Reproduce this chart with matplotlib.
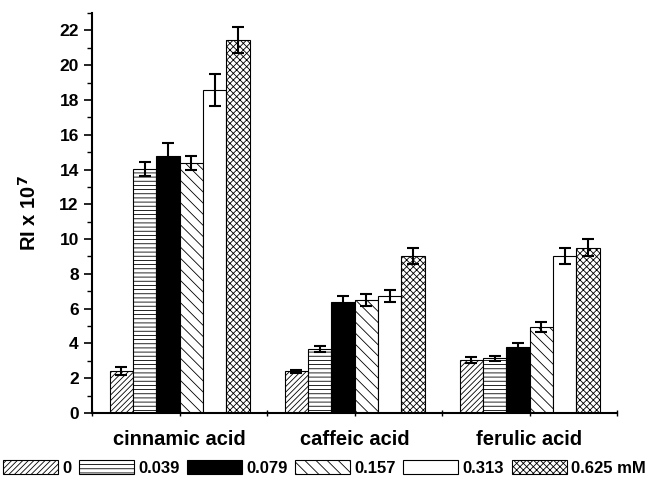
import matplotlib
matplotlib.use("Agg")
import matplotlib.pyplot as plt
import numpy as np
from matplotlib.ticker import MultipleLocator, FixedLocator

plt.rcParams['font.family'] = ['Liberation Sans', 'DejaVu Sans']
plt.rcParams['font.weight'] = 'bold'
plt.rcParams['hatch.linewidth'] = 0.6

categories = ["cinnamic acid", "caffeic acid", "ferulic acid"]
series_labels = ["0", "0.039", "0.079", "0.157", "0.313", "0.625 mM"]
values = {
    "0":        [2.4, 2.4, 3.05],
    "0.039":    [14.05, 3.7, 3.15],
    "0.079":    [14.8, 6.4, 3.8],
    "0.157":    [14.4, 6.5, 4.95],
    "0.313":    [18.55, 6.75, 9.0],
    "0.625 mM": [21.45, 9.0, 9.5],
}
errors = {
    "0":        [0.22, 0.1, 0.15],
    "0.039":    [0.4, 0.18, 0.15],
    "0.079":    [0.75, 0.35, 0.2],
    "0.157":    [0.4, 0.35, 0.3],
    "0.313":    [0.92, 0.35, 0.46],
    "0.625 mM": [0.75, 0.46, 0.48],
}
hatches = ["//////", "----", None, "\\\\\\", None, "xxxxx"]
faces = ["white", "white", "black", "white", "white", "white"]

fig = plt.figure(figsize=(6.49, 4.95), dpi=100)
ax = fig.add_axes([0.1418, 0.1657, 0.809, 0.808])

x = np.arange(1, len(categories) + 1)
w = 0.8 / 6
handles = []
for i, lab in enumerate(series_labels):
    pos = x - 0.4 + w * (i + 0.5)
    b = ax.bar(pos, values[lab], width=w, color=faces[i], edgecolor='black',
               hatch=hatches[i], linewidth=0.8, label=lab)
    ax.errorbar(pos, values[lab], yerr=errors[lab], fmt='none', ecolor='black',
                elinewidth=1.5, capsize=4, capthick=1.5)
    handles.append(b)

ax.set_xlim(0.5, 3.5)
ax.set_ylim(0, 23)
ax.yaxis.set_major_locator(MultipleLocator(2))
ax.yaxis.set_minor_locator(MultipleLocator(1))
ax.set_xticks(x)
ax.set_xticklabels(categories, fontsize=14.5, fontweight='bold')
ax.xaxis.set_minor_locator(FixedLocator([0.5, 1.5, 2.5, 3.5]))
ax.tick_params(axis='y', which='major', length=6, width=1.2, labelsize=12.5, direction='out')
ax.tick_params(axis='y', which='minor', length=3.5, width=1.0, direction='out')
ax.tick_params(axis='x', which='major', length=4, width=1.0, direction='inout', pad=10)
ax.tick_params(axis='x', which='minor', length=4, width=1.0, direction='inout')
for lbl in ax.get_yticklabels():
    lbl.set_fontweight('bold')
ax.spines['top'].set_visible(False)
ax.spines['right'].set_visible(False)
ax.spines['left'].set_linewidth(1.5)
ax.spines['bottom'].set_linewidth(1.5)
ax.set_ylabel(r"RI x 10$^{\mathbf{7}}$", fontsize=14.5, fontweight='bold', labelpad=14)

leg = fig.legend(handles=handles, labels=series_labels, loc='center',
                 bbox_to_anchor=(0.5, 0.055), ncol=6, frameon=False,
                 handlelength=3.3, handleheight=0.95, handletextpad=0.25,
                 columnspacing=0.45, prop={'weight': 'bold', 'size': 12})

fig.savefig("out.png", dpi=100)
